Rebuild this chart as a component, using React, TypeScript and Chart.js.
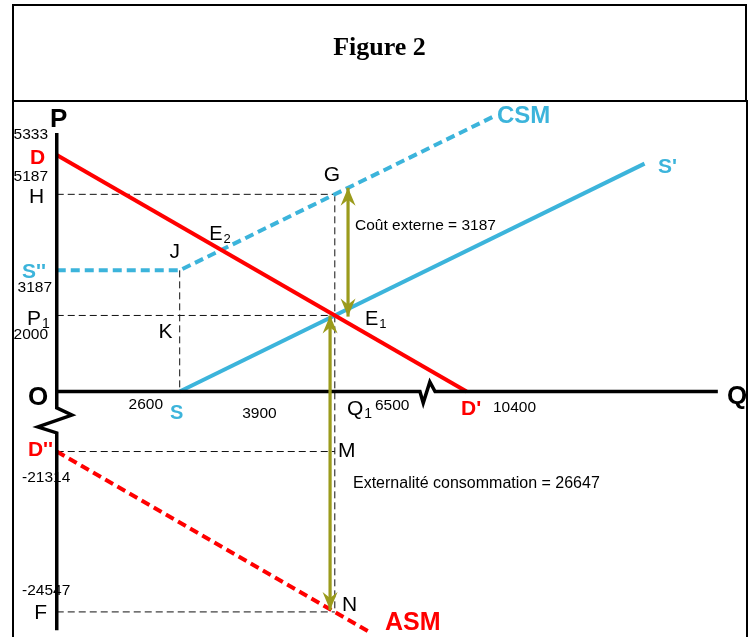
import React, { useEffect, useRef } from "react";
import { Chart, registerables } from "chart.js";

Chart.register(...registerables);

// ---------- Data (schematic diagram units: Q horizontally, P vertically) ----------
// Key quantities
const qS = 2600; // S, J, K
const q1 = 5880; // Q1 (equilibrium)
const qDprime = 8667; // D'
// Key prices
const pD = 6220; // demand intercept (labelled 5333)
const pH = 5187; // H / G
const pJ = 3187; // S'' / J
const p1 = 2000; // P1
const pM = -1580; // D'' / M
const pF = -5800; // F / N

// Axes (with break marks)
const pAxisQ = [0, 0, 320, -400, 0, 0];
const pAxisP = [6800, -430, -620, -930, -1090, -6280];
const qAxisQ = [0, 7680, 7750, 7890, 8000, 13980];
const qAxisP = [0, 0, -300, 250, 0, 0];

// Curves
const demandQ = [0, qDprime];
const demandP = [pD, 0];
const supplyQ = [qS, 12430];
const supplyP = [0, 5994];
const csmQ = [0, qS, 9230];
const csmP = [pJ, pJ, 7230];
const asmQ = [0, 6625];
const asmP = [pM, -6335];

// Arrows
const arrowCoutQ = 6160;
const arrowCoutP = [1970, 5360];
const arrowExtQ = 5780;
const arrowExtP = [2000, -5750];

// Value labels
const tickLabels = ["5333", "5187", "3187", "2000", "-21314", "-24547"];
const qTickLabels = ["2600", "3900", "6500", "10400"];

const BLUE = "#3cb4db";
const RED = "#ff0000";
const OLIVE = "#9b9b1c";
const GUIDE = "#111111";
const BLACK = "#000000";
const FONT = '"Liberation Sans", Arial, Helvetica, sans-serif';

function intersect(ax: number[], ay: number[], bx: number[], by: number[]) {
  const n = bx.length;
  const x1 = ax[0], y1 = ay[0], x2 = ax[1], y2 = ay[1];
  const x3 = bx[n - 2], y3 = by[n - 2], x4 = bx[n - 1], y4 = by[n - 1];
  const d = (x1 - x2) * (y3 - y4) - (y1 - y2) * (x3 - x4);
  const t = ((x1 - x3) * (y3 - y4) - (y1 - y3) * (x3 - x4)) / d;
  return [x1 + t * (x2 - x1), y1 + t * (y2 - y1)];
}

const E2 = intersect(demandQ, demandP, csmQ, csmP);

type Lbl = {
  t: string;
  sub?: string;
  a: number[];
  d: number[];
  s: number;
  b?: boolean;
  c?: string;
  al?: CanvasTextAlign;
};

const labels: Lbl[] = [
  { t: "P", a: [0, 6800], d: [-6.7, -6], s: 26, b: true },
  { t: tickLabels[0], a: [0, pD], d: [-8.7, -16], s: 15.5, al: "right" },
  { t: "D", a: [0, pD], d: [-11.7, 9], s: 21, b: true, c: RED, al: "right" },
  { t: tickLabels[1], a: [0, pH], d: [-8.7, -13.4], s: 15.5, al: "right" },
  { t: "H", a: [0, pH], d: [-12.7, 8.6], s: 21, al: "right" },
  { t: "S''", a: [0, pJ], d: [-10.7, 7.6], s: 21, b: true, c: BLUE, al: "right" },
  { t: tickLabels[2], a: [0, pJ], d: [-4.7, 21.3], s: 15.5, al: "right" },
  { t: "P", sub: "1", a: [0, p1], d: [-29.7, 9.5], s: 21 },
  { t: tickLabels[3], a: [0, p1], d: [-8.7, 23.5], s: 15.5, al: "right" },
  { t: "O", a: [0, 0], d: [-28.7, 13.5], s: 26, b: true },
  { t: "J", a: [qS, pJ], d: [0.4, -12.4], s: 21, al: "right" },
  { t: "K", a: [qS, p1], d: [-7.3, 22.8], s: 21, al: "right" },
  { t: "E", sub: "2", a: E2, d: [-12, -10], s: 20 },
  { t: "G", a: [q1, pH], d: [-2.8, -13.4], s: 21, al: "center" },
  { t: "E", sub: "1", a: [q1, p1], d: [30.2, 9.5], s: 20 },
  { t: "Coût externe = 3187", a: [arrowCoutQ, pH], d: [7, 35.6], s: 15.5 },
  { t: "CSM", a: [csmQ[2], csmP[2]], d: [3.8, 6.3], s: 24, b: true, c: BLUE },
  { t: "S'", a: [supplyQ[1], supplyP[1]], d: [13.4, 9.4], s: 21, b: true, c: BLUE },
  { t: "Q", a: [qAxisQ[5], 0], d: [9.2, 12.5], s: 26, b: true },
  { t: qTickLabels[0], a: [qS, 0], d: [-16.6, 17.5], s: 15.5, al: "right" },
  { t: "S", a: [qS, 0], d: [-3, 27.5], s: 20, b: true, c: BLUE, al: "center" },
  { t: qTickLabels[1], a: [3900, 0], d: [1, 26.5], s: 15.5 },
  { t: "Q", sub: "1", a: [q1, 0], d: [12.2, 24], s: 21 },
  { t: qTickLabels[2], a: [q1, 0], d: [40.2, 18.5], s: 15.5 },
  { t: "D'", a: [qDprime, 0], d: [-5.6, 23.5], s: 21, b: true, c: RED },
  { t: qTickLabels[3], a: [qDprime, 0], d: [26.4, 20.5], s: 15.5 },
  { t: "D''", a: [0, pM], d: [-3.7, 4.5], s: 21, b: true, c: RED, al: "right" },
  { t: tickLabels[4], a: [0, pM], d: [-34.7, 30.5], s: 15.5 },
  { t: "M", a: [q1, pM], d: [3.2, 5.5], s: 21 },
  { t: "Externalité consommation = 26647", a: [q1, pM], d: [18.2, 36.5], s: 16 },
  { t: tickLabels[5], a: [0, pF], d: [-34.7, -17], s: 15.5 },
  { t: "F", a: [0, pF], d: [-9.7, 7], s: 21, al: "right" },
  { t: "N", a: [q1, pF], d: [7.2, -1], s: 21 },
  { t: "ASM", a: [q1, pF], d: [50.2, 18], s: 25, b: true, c: RED },
];

function seg(xs: number[], ys: number[], color: string, width: number, dash: number[], order: number) {
  return {
    data: xs.map((x, i) => ({ x, y: ys[i] })),
    showLine: true,
    borderColor: color,
    backgroundColor: color,
    borderWidth: width,
    borderDash: dash,
    borderCapStyle: "butt",
    borderJoinStyle: "miter",
    pointRadius: 0,
    pointHoverRadius: 0,
    fill: false,
    tension: 0,
    clip: false,
    order,
  };
}

const overlayPlugin = {
  id: "overlay",
  beforeDatasetsDraw(chart: any) {
    const ctx = chart.ctx;
    const xs = chart.scales.x;
    const ys = chart.scales.y;
    ctx.save();
    ctx.textBaseline = "alphabetic";
    for (const l of labels) {
      const px = xs.getPixelForValue(l.a[0]) + l.d[0];
      const py = ys.getPixelForValue(l.a[1]) + l.d[1];
      ctx.fillStyle = l.c || BLACK;
      ctx.font = `${l.b ? "bold " : ""}${l.s}px ${FONT}`;
      ctx.textAlign = l.al || "left";
      ctx.fillText(l.t, px, py);
      if (l.sub) {
        const w = ctx.measureText(l.t).width;
        ctx.textAlign = "left";
        ctx.font = `${l.b ? "bold " : ""}${Math.round(l.s * 0.65)}px ${FONT}`;
        ctx.fillText(l.sub, px + w + 1, py + 3);
      }
    }
    ctx.restore();
  },
  afterDatasetsDraw(chart: any) {
    const ctx = chart.ctx;
    const xs = chart.scales.x;
    const ys = chart.scales.y;
    const head = (q: number, p: number, dir: number) => {
      const x = xs.getPixelForValue(q);
      const y = ys.getPixelForValue(p);
      ctx.beginPath();
      ctx.moveTo(x, y);
      ctx.lineTo(x - 7.5, y - dir * 18);
      ctx.lineTo(x, y - dir * 12);
      ctx.lineTo(x + 7.5, y - dir * 18);
      ctx.closePath();
      ctx.fill();
    };
    ctx.save();
    ctx.fillStyle = OLIVE;
    head(arrowCoutQ, arrowCoutP[1], -1);
    head(arrowCoutQ, arrowCoutP[0], 1);
    head(arrowExtQ, arrowExtP[0], -1);
    head(arrowExtQ, arrowExtP[1], 1);
    ctx.restore();
  },
};

export default function App() {
  const ref = useRef<HTMLCanvasElement | null>(null);

  useEffect(() => {
    if (!ref.current) return;
    const G = [7, 4];
    const datasets: any[] = [
      seg([arrowCoutQ, arrowCoutQ], arrowCoutP, OLIVE, 3.2, [], 0),
      seg([arrowExtQ, arrowExtQ], arrowExtP, OLIVE, 3.2, [], 0),
      seg(pAxisQ, pAxisP, BLACK, 3.5, [], 1),
      seg(qAxisQ, qAxisP, BLACK, 3.5, [], 1),
      seg(demandQ, demandP, RED, 4, [], 2),
      seg(supplyQ, supplyP, BLUE, 4, [], 2),
      seg(csmQ, csmP, BLUE, 4, [9, 5], 3),
      seg(asmQ, asmP, RED, 4, [9, 5], 3),
      seg([0, q1], [pH, pH], GUIDE, 1, G, 4),
      seg([q1, q1], [pH, pF], GUIDE, 1, G, 4),
      seg([0, q1], [p1, p1], GUIDE, 1, G, 4),
      seg([qS, qS], [pJ, 0], GUIDE, 1, G, 4),
      seg([0, q1], [pM, pM], GUIDE, 1, G, 4),
      seg([0, q1], [pF, pF], GUIDE, 1, G, 4),
    ];
    const chart = new Chart(ref.current, {
      type: "scatter",
      data: { datasets },
      options: {
        responsive: false,
        animation: false,
        events: [],
        layout: { padding: 0 },
        scales: {
          x: { type: "linear", min: -1200, max: 14660, display: false },
          y: { type: "linear", min: -6460, max: 10300, display: false },
        },
        plugins: {
          legend: { display: false },
          tooltip: { enabled: false },
          title: { display: false },
        },
      },
      plugins: [overlayPlugin],
    } as any);
    return () => chart.destroy();
  }, []);

  return (
    <div
      style={{
        position: "fixed",
        left: 0,
        top: 0,
        width: 750,
        height: 637,
        background: "#fff",
        overflow: "hidden",
      }}
    >
      <canvas
        ref={ref}
        width={750}
        height={637}
        style={{ position: "absolute", left: 0, top: 0, width: 750, height: 637 }}
      />
      <div
        style={{
          position: "absolute",
          left: 12,
          top: 4,
          width: 735,
          height: 98,
          border: "2px solid #000",
          boxSizing: "border-box",
          pointerEvents: "none",
        }}
      />
      <div
        style={{
          position: "absolute",
          left: 12,
          top: 100,
          width: 736,
          height: 600,
          border: "2px solid #000",
          boxSizing: "border-box",
          pointerEvents: "none",
        }}
      />
      <div
        style={{
          position: "absolute",
          left: 12,
          top: 32,
          width: 735,
          lineHeight: "30px",
          textAlign: "center",
          fontFamily: '"Liberation Serif", "Times New Roman", serif',
          fontWeight: "bold",
          fontSize: 26,
          color: "#000",
        }}
      >
        Figure 2
      </div>
    </div>
  );
}
